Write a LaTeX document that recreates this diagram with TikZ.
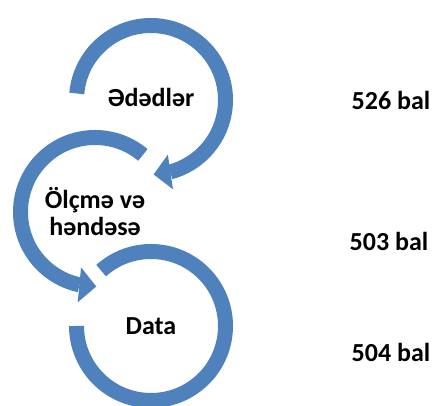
\documentclass[tikz,border=0pt]{standalone}
\usepackage{fontspec}
\setmainfont{Carlito}
\usetikzlibrary{arrows.meta,bending}
\definecolor{ringblue}{RGB}{79,129,189}
\begin{document}
\begin{tikzpicture}
	[x=1pt,y=1pt,
	ring/.style={draw=ringblue,line width=15pt},
	ringarrow/.style={ring,-{Triangle[width=35pt,length=17pt,line width=0pt,flex]}},
	topic/.style={font=\fontsize{26}{27}\selectfont\bfseries,align=center},
	score/.style={font=\fontsize{26}{27}\selectfont\bfseries}]
	\useasboundingbox (0,0) rectangle (434,406);
	\coordinate (c1) at (151,306);
	\coordinate (c2) at (95,194);
	\coordinate (c3) at (151,80);
	\draw[ringarrow] ([shift={(175:74.5)}]c1) arc[start angle=175,end angle=-88,radius=74.5];
	\draw[ringarrow] ([shift={(50:74.5)}]c2) arc[start angle=50,end angle=271,radius=74.5];
	\draw[ring] ([shift={(132:74.5)}]c3) arc[start angle=132,end angle=-180,radius=74.5];
	\node[topic] (numbers) at (151,309) {Ədədlər};
	\node[topic] (geometry) at (c2) {Ölçmə və\\həndəsə};
	\node[topic] (data) at (c3) {Data};
	\node[score] (s1) at (391,306) {526 bal};
	\node[score] (s2) at (389,165) {503 bal};
	\node[score] (s3) at (391,54) {504 bal};
\end{tikzpicture}
\end{document}
